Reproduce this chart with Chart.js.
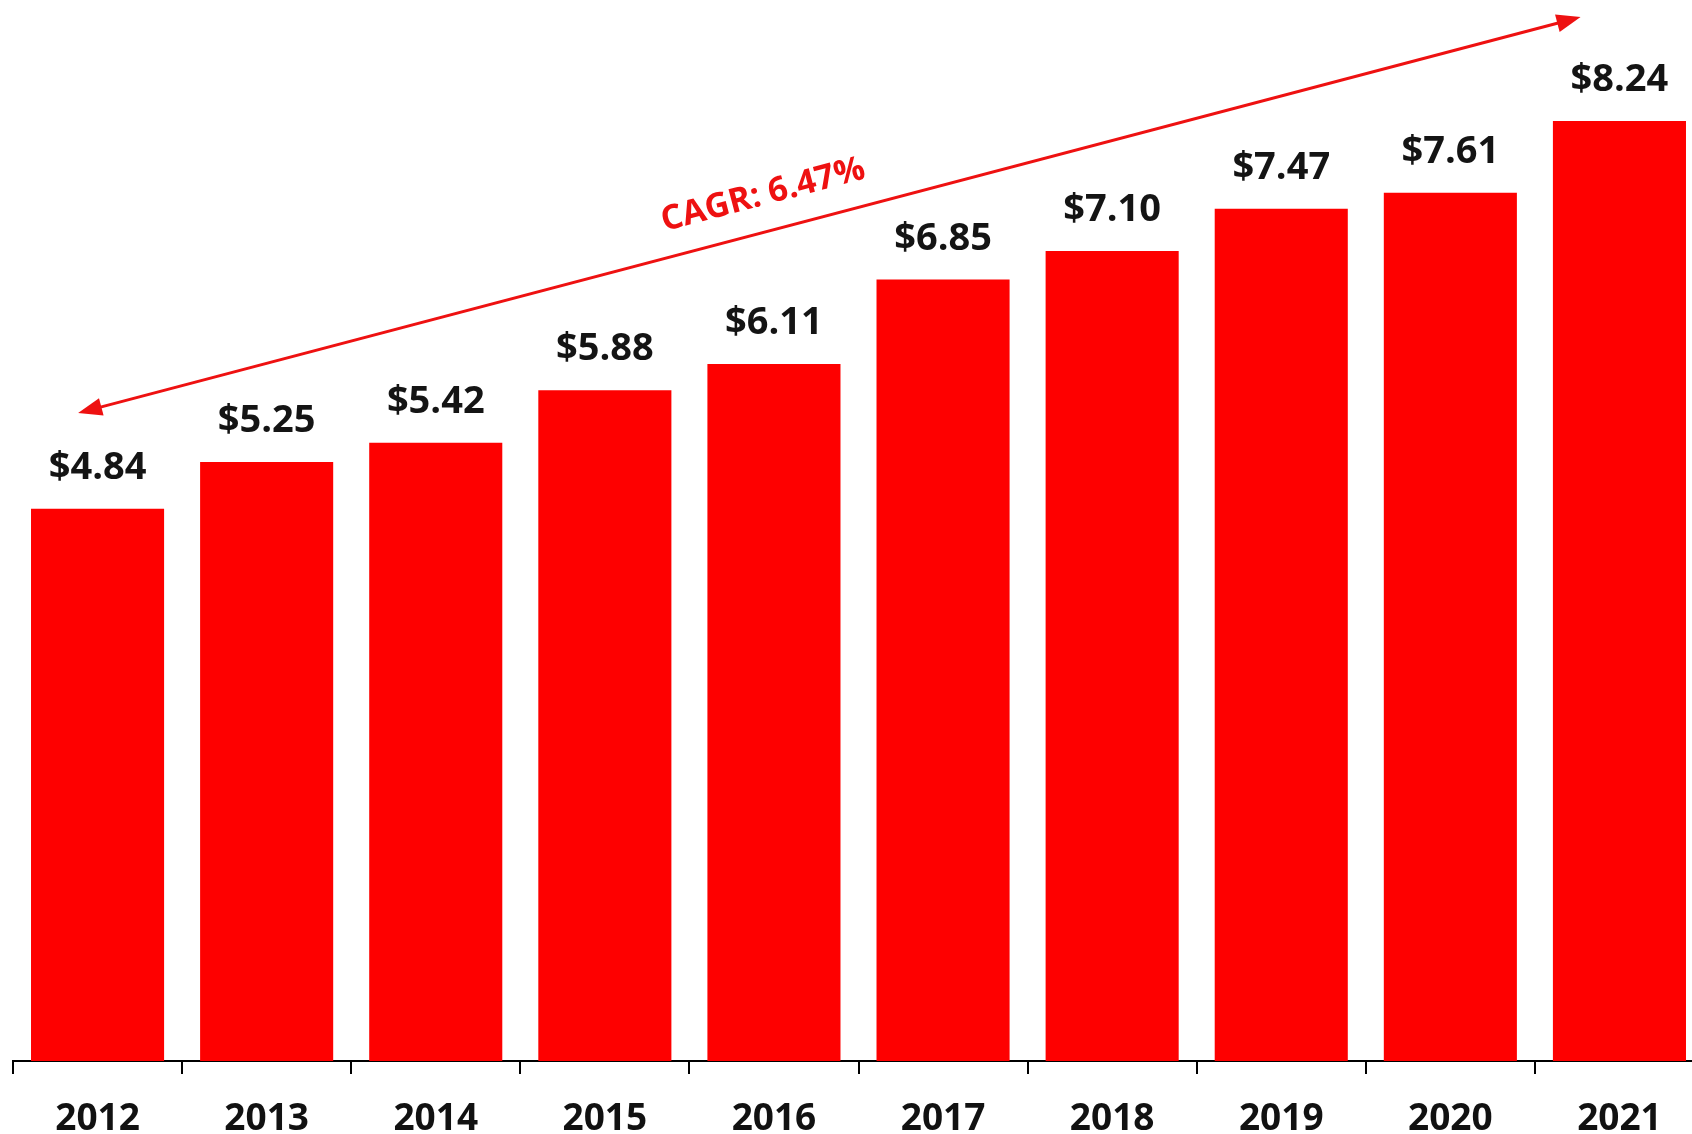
<!DOCTYPE html>
<html>
<head>
<meta charset="utf-8">
<script src="https://cdn.jsdelivr.net/npm/chart.js@4"></script>
<style>
  html, body { margin: 0; padding: 0; overflow: hidden; background: #fff; width: 1692px; height: 1134px; }
  #wrap { position: absolute; left: 0; top: 0; width: 1705px; height: 1165px; }
</style>
</head>
<body>
<div id="wrap"><canvas id="c"></canvas></div>
<script>
const categories = ['2012','2013','2014','2015','2016','2017','2018','2019','2020','2021'];
const values = [4.84, 5.25, 5.42, 5.88, 6.11, 6.85, 7.10, 7.47, 7.61, 8.24];
const cagrText = 'CAGR: 6.47%';
// arrow endpoints in data space: [category index, value]
const arrowStart = [-0.115, 5.68];
const arrowEnd = [8.77, 9.15];

const labelPlugin = {
  id: 'valueLabels',
  afterDatasetsDraw(chart) {
    const ctx = chart.ctx;
    const meta = chart.getDatasetMeta(0);
    ctx.save();
    ctx.font = 'bold 38px "Open Sans"';
    ctx.fillStyle = '#141414';
    ctx.textAlign = 'center';
    ctx.textBaseline = 'alphabetic';
    meta.data.forEach((bar, i) => {
      ctx.fillText('$' + values[i].toFixed(2), bar.x, bar.y - 30);
    });
    ctx.restore();
  }
};

const arrowPlugin = {
  id: 'cagrArrow',
  afterDatasetsDraw(chart) {
    const xs = chart.scales.x, ys = chart.scales.y;
    const x1 = xs.getPixelForValue(arrowStart[0]), y1 = ys.getPixelForValue(arrowStart[1]);
    const x2 = xs.getPixelForValue(arrowEnd[0]), y2 = ys.getPixelForValue(arrowEnd[1]);
    const ctx = chart.ctx;
    const ang = Math.atan2(y2 - y1, x2 - x1);
    const headL = 24, headW = 9;
    ctx.save();
    ctx.strokeStyle = '#ee1111';
    ctx.fillStyle = '#ee1111';
    ctx.lineWidth = 3;
    ctx.beginPath();
    ctx.moveTo(x1 + Math.cos(ang) * headL * 0.8, y1 + Math.sin(ang) * headL * 0.8);
    ctx.lineTo(x2 - Math.cos(ang) * headL * 0.8, y2 - Math.sin(ang) * headL * 0.8);
    ctx.stroke();
    function head(x, y, a) {
      ctx.beginPath();
      ctx.moveTo(x, y);
      ctx.lineTo(x - Math.cos(a) * headL - Math.sin(a) * headW, y - Math.sin(a) * headL + Math.cos(a) * headW);
      ctx.lineTo(x - Math.cos(a) * headL + Math.sin(a) * headW, y - Math.sin(a) * headL - Math.cos(a) * headW);
      ctx.closePath();
      ctx.fill();
    }
    head(x2, y2, ang);
    head(x1, y1, ang + Math.PI);
    // text
    const t = 0.462;
    const cx = x1 + (x2 - x1) * t, cy = y1 + (y2 - y1) * t;
    const off = 36;
    const tx = cx + Math.sin(ang) * off, ty = cy - Math.cos(ang) * off;
    ctx.translate(tx, ty);
    ctx.rotate(ang);
    ctx.font = 'bold 34px "Open Sans"';
    ctx.textAlign = 'center';
    ctx.textBaseline = 'middle';
    ctx.fillText(cagrText, 0, 0);
    ctx.restore();
  }
};

new Chart(document.getElementById('c'), {
  type: 'bar',
  data: {
    labels: categories,
    datasets: [{
      data: values,
      backgroundColor: '#fe0000',
      borderWidth: 0,
      categoryPercentage: 1.0,
      barPercentage: 0.787
    }]
  },
  options: {
    responsive: true,
    maintainAspectRatio: false,
    animation: false,
    layout: { padding: { left: 13, right: 1, top: 0, bottom: 0 } },
    plugins: { legend: { display: false }, tooltip: { enabled: false } },
    scales: {
      y: { display: false, min: 0, max: 9.3 },
      x: {
        offset: true,
        grid: { display: true, offset: true, drawOnChartArea: false, drawTicks: true, tickLength: 13, color: '#000', lineWidth: 2 },
        border: { display: true, color: '#000', width: 2 },
        ticks: { color: '#111', padding: 27, font: { family: 'Open Sans', weight: 'bold', size: 37, lineHeight: 1.0 } }
      }
    }
  },
  plugins: [labelPlugin, arrowPlugin]
});
</script>
</body>
</html>
